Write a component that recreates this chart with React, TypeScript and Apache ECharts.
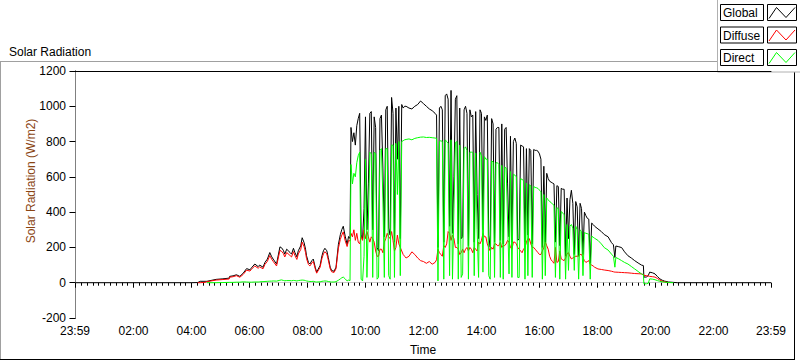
import React, { useEffect, useRef } from "react";
import * as echarts from "echarts";

// Time of each sample, minutes after midnight
const times = [
  0, 240, 253, 258, 268, 272, 291, 305, 318, 319,
  326, 333, 340, 347, 354, 361, 364, 371, 378, 381,
  388, 392, 397, 402, 406, 409, 416, 423, 426, 430,
  433, 437, 444, 447, 451, 454, 458, 461, 466, 469,
  473, 476, 478, 482, 485, 489, 492, 496, 499, 506,
  510, 513, 516, 520, 523, 527, 530, 535, 539, 544,
  548, 551, 554, 558, 562, 565, 568,
  570, 573, 576, 579, 582, 585, 588, 591, 594, 597,
  600, 603, 606, 609, 612, 615, 618, 621, 624, 627,
  630, 633, 636, 639, 642, 645, 648, 651, 654, 657,
  660, 663, 666, 669, 672, 675, 678, 681,
  684, 690, 696, 702, 708, 714, 720, 726, 732, 738, 744, 747,
  750, 753, 756, 759, 762, 765, 768, 771, 774, 777,
  780, 783, 786, 789, 792, 795, 798, 801, 804, 807,
  810, 813, 816, 819, 822, 825, 828, 831, 834, 837,
  840, 843, 846, 849, 852, 855, 858, 861, 864, 867,
  870, 873, 876, 879, 882, 885, 888, 891, 894, 897,
  900, 903, 906, 909, 912, 915, 918, 921, 924, 927,
  930, 933, 936, 939, 942, 945, 948, 951, 954, 957,
  960, 963, 966, 969, 972, 975, 978, 981, 984, 987,
  990, 993, 996, 999, 1002, 1005, 1008, 1011, 1014, 1017,
  1020, 1023, 1026, 1029, 1032, 1035, 1038, 1041, 1044, 1047,
  1050, 1053, 1056, 1059, 1062, 1065, 1068, 1071, 1074,
  1081, 1088, 1094, 1102, 1109, 1113, 1116, 1118, 1124, 1130,
  1136, 1143, 1150, 1157, 1164, 1171, 1175, 1176, 1181, 1185,
  1188, 1194, 1199, 1204, 1209, 1214, 1219, 1227, 1237, 1245,
  1439,
];

const globalRad = [
  0, 0, 1, 8, 8, 8, 19, 22, 26, 36,
  39, 45, 36, 54, 80, 73, 84, 106, 91, 100,
  88, 115, 134, 171, 147, 134, 106, 203, 199, 184,
  162, 190, 171, 162, 195, 171, 147, 181, 209, 255,
  227, 190, 153, 115, 106, 125, 134, 88, 60, 97,
  153, 181, 195, 181, 143, 88, 69, 65, 88, 218,
  273, 301, 320, 264, 218, 262, 250,
  880, 800, 850, 780, 890, 930, 960, 270, 250, 420,
  940, 300, 560, 960, 970, 300, 940, 880, 200, 180,
  930, 950, 650, 260, 980, 1000, 310, 270, 1050, 960,
  230, 990, 700, 1000, 250, 1010, 990, 1000,
  1000, 990, 985, 1000, 1010, 1030, 1015, 1000, 985, 975, 960, 950,
  200, 990, 1000, 980, 230, 1060, 1070, 1040, 320, 1090,
  280, 600, 1040, 1060, 220, 990, 250, 260, 980, 1000,
  960, 210, 980, 940, 950, 230, 970, 500, 250, 980,
  960, 300, 940, 920, 950, 270, 200, 930, 900, 230,
  870, 880, 880, 240, 900, 220, 870, 880, 560, 260,
  830, 230, 800, 820, 790, 240, 250, 780, 775, 770,
  230, 760, 270, 760, 750, 220, 755, 750, 750, 745,
  730, 700, 200, 660, 230, 620, 590, 575, 570, 565,
  560, 230, 550, 545, 210, 535, 530, 530, 150, 480,
  250, 470, 524, 450, 160, 460, 430, 150, 450, 420,
  160, 400, 380, 365, 360, 110, 338, 330, 320,
  305, 290, 273, 260, 227, 215, 143, 208, 204, 199,
  175, 153, 140, 125, 112, 100, 97, 32, 32, 40,
  60, 56, 50, 35, 22, 14, 9, 4, 2, 0,
  0,
];

const diffuseRad = [
  null, null, 0, 0, 2, 6, 15, 18, 21, 31,
  34, 40, 31, 47, 71, 66, 76, 95, 82, 90,
  79, 104, 121, 154, 133, 121, 95, 183, 179, 166,
  146, 171, 154, 146, 176, 154, 132, 163, 188, 230,
  204, 171, 137, 103, 95, 112, 121, 79, 54, 87,
  138, 163, 176, 163, 129, 79, 62, 58, 79, 196,
  246, 270, 288, 238, 205, 240, 236,
  280, 260, 300, 240, 280, 230, 220, 260, 240, 300,
  250, 290, 260, 230, 260, 250, 230, 180, 150, 150,
  190, 190, 170, 230, 250, 280, 260, 250, 290, 240,
  180, 200, 270, 220, 200, 180, 160, 150,
  140, 150, 175, 160, 140, 125, 120, 110, 120, 105, 115, 130,
  190, 170, 160, 150, 210, 200, 220, 290, 280, 240,
  270, 250, 200, 200, 190, 160, 170, 190, 170, 190,
  200, 180, 200, 190, 170, 200, 190, 180, 230, 220,
  240, 280, 260, 260, 220, 200, 180, 200, 190, 220,
  220, 210, 210, 230, 200, 210, 210, 220, 240, 230,
  200, 190, 230, 230, 220, 200, 190, 180, 170, 190,
  200, 230, 250, 250, 220, 200, 200, 190, 180, 170,
  160, 160, 180, 200, 230, 210, 190, 150, 130, 120,
  110, 200, 115, 120, 180, 135, 130, 125, 140, 165,
  170, 150, 135, 140, 145, 150, 150, 153, 160, 160,
  143, 125, 115, 120, 125, 105, 100, 95, 88,
  78, 75, 72, 69, 65, 62, 60, 60, 59, 58,
  57, 56, 54, 52, 51, 50, 45, 42, 40, 38,
  36, 34, 32, 24, 15, 9, 5, 0, null, null,
  null,
];

const directRad = [
  null, null, null, null, null, 0, 0, 1, 2, 2,
  2, 3, 3, 5, 4, 3, 3, 4, 4, 5,
  6, 7, 8, 9, 9, 10, 9, 14, 16, 13,
  11, 12, 12, 11, 13, 12, 10, 12, 14, 15,
  14, 12, 10, 8, 7, 7, 8, 5, 4, 5,
  8, 9, 10, 9, 7, 5, 4, 4, 6, 14,
  22, 28, 32, 22, 10, 15, 12,
  670, 560, 620, 600, 680, 720, 740, 20, 10, 150,
  700, 30, 350, 740, 730, 30, 740, 730, 20, 30,
  750, 760, 480, 30, 760, 760, 40, 20, 780, 780,
  30, 790, 500, 800, 40, 800, 805, 810,
  812, 815, 810, 818, 822, 825, 826, 823, 824, 822, 820, 818,
  10, 800, 805, 800, 20, 810, 800, 790, 40, 810,
  20, 420, 795, 800, 20, 780, 30, 50, 760, 770,
  750, 20, 740, 740, 740, 40, 735, 300, 30, 740,
  720, 60, 715, 700, 700, 40, 20, 690, 685, 30,
  680, 680, 670, 30, 665, 20, 655, 650, 350, 50,
  630, 30, 615, 610, 600, 30, 30, 590, 585, 580,
  20, 565, 40, 555, 550, 30, 545, 540, 538, 534,
  525, 515, 20, 500, 40, 480, 470, 460, 455, 445,
  440, 30, 425, 420, 20, 404, 395, 385, 20, 330,
  70, 320, 330, 310, 70, 320, 300, 20, 300, 290,
  40, 285, 280, 278, 275, 20, 264, 258, 252,
  240, 220, 199, 185, 162, 150, 88, 143, 135, 125,
  115, 106, 92, 78, 64, 50, 45, -6, -6, -4,
  22, 20, 17, 12, 8, 5, 3, 1, 0, null,
  null,
];

const seriesNames = ["Global", "Diffuse", "Direct"];
const seriesColors = ["#000000", "#ff0000", "#00ff00"];

// x-axis tick labels (minutes): 23:59, 02:00 ... 22:00, 23:59
const xMajorTicks = [-1, 120, 240, 360, 480, 600, 720, 840, 960, 1080, 1200, 1320, 1439];
const xMinorTicks: number[] = [];
for (let v = 12; v < 1439; v += 12) if (v % 120 !== 0) xMinorTicks.push(v);

const FONT = '"Liberation Sans", Arial, sans-serif';

function fmtTime(v: number): string {
  const m = ((Math.round(v) % 1440) + 1440) % 1440;
  const h = Math.floor(m / 60);
  const mm = m % 60;
  return String(h).padStart(2, "0") + ":" + String(mm).padStart(2, "0");
}

function pairs(vals: (number | null)[]) {
  return times.map((t, i) => [t, vals[i] === undefined ? null : vals[i]]);
}

export default function App() {
  const ref = useRef<HTMLDivElement>(null);
  useEffect(() => {
    if (!ref.current) return;
    const chart = echarts.init(ref.current, null, { renderer: "svg" });
    const valueSets = [globalRad, diffuseRad, directRad];
    const legendRows = seriesNames.map((name, i) => {
      const y0 = 4.5 + i * 22.5;
      return [
        {
          type: "rect",
          shape: { x: 720.5, y: y0, width: 43, height: 16 },
          style: { fill: "#ffffff", stroke: "#000000", lineWidth: 1 },
        },
        {
          type: "text",
          style: {
            text: name,
            x: 723,
            y: y0 + 8.5,
            font: "12px " + FONT,
            fill: "#000000",
            align: "left",
            verticalAlign: "middle",
          },
        },
        {
          type: "rect",
          shape: { x: 767.5, y: y0, width: 29, height: 16 },
          style: { fill: "#ffffff", stroke: "#000000", lineWidth: 1 },
        },
        {
          type: "polyline",
          shape: {
            points: [
              [769, y0 + 14],
              [776.5, y0 + 3],
              [786, y0 + 13],
              [795, y0 + 3],
            ],
          },
          style: { stroke: seriesColors[i], fill: null, lineWidth: 1 },
        },
      ];
    });

    const option: any = {
      animation: false,
      backgroundColor: "#ffffff",
      title: {
        text: "Solar Radiation",
        left: 4,
        top: 41,
        textStyle: { fontSize: 12, fontWeight: "normal", color: "#000000", fontFamily: FONT },
      },
      grid: { left: 75, right: 29, top: 71, bottom: 39, show: false },
      xAxis: [
        {
          type: "value",
          min: -1,
          max: 1439,
          position: "bottom",
          name: "Time",
          nameLocation: "middle",
          nameGap: 26,
          nameMoveOverlap: false,
          nameTextStyle: { fontSize: 12, color: "#000000", fontFamily: FONT },
          axisLine: { show: true, lineStyle: { color: "#c8c8c8", width: 1 } },
          axisTick: {
            show: true,
            customValues: xMajorTicks,
            length: 5,
            lineStyle: { color: "#000000" },
          },
          axisLabel: {
            customValues: xMajorTicks,
            formatter: (v: number) => fmtTime(v),
            margin: 7,
            fontSize: 12,
            color: "#000000",
            fontFamily: FONT,
          },
          splitLine: { show: false },
        },
        {
          type: "value",
          min: -1,
          max: 1439,
          position: "bottom",
          axisLine: { show: false },
          axisTick: {
            show: true,
            customValues: xMinorTicks,
            length: 3,
            lineStyle: { color: "#000000" },
          },
          axisLabel: { show: false },
          splitLine: { show: false },
        },
        {
          type: "value",
          min: -1,
          max: 1439,
          position: "top",
          axisLine: { show: true, lineStyle: { color: "#000000", width: 1 } },
          axisTick: { show: false },
          axisLabel: { show: false },
          splitLine: { show: false },
        },
      ],
      yAxis: [
        {
          type: "value",
          min: -200,
          max: 1200,
          interval: 200,
          position: "left",
          name: "Solar Radiation (W/m2)",
          nameLocation: "middle",
          nameGap: 38,
          nameMoveOverlap: false,
          nameTextStyle: {
            fontSize: 12,
            color: "#8a4513",
            fontFamily: FONT,
            padding: [0, 0, 0, 27],
          },
          axisLine: { show: true, lineStyle: { color: "#000000", width: 1 } },
          axisTick: { show: true, length: 6, lineStyle: { color: "#000000" } },
          axisLabel: {
            margin: 9,
            fontSize: 12,
            color: "#000000",
            fontFamily: FONT,
            formatter: (v: number) => String(v),
          },
          splitLine: { show: false },
        },
        {
          type: "value",
          min: -200,
          max: 1200,
          interval: 200,
          position: "right",
          axisLine: { show: true, lineStyle: { color: "#808080", width: 1 } },
          axisTick: { show: false },
          axisLabel: { show: false },
          splitLine: { show: false },
        },
      ],
      series: seriesNames.map((name, i) => ({
        name,
        type: "line",
        xAxisIndex: 0,
        yAxisIndex: 0,
        data: pairs(valueSets[i]),
        showSymbol: false,
        symbol: "none",
        connectNulls: false,
        silent: true,
        lineStyle: { color: seriesColors[i], width: 1 },
        itemStyle: { color: seriesColors[i] },
        z: 2 + i,
      })),
      graphic: [
        {
          type: "line",
          shape: { x1: 0, y1: 61.5, x2: 717.5, y2: 61.5 },
          style: { stroke: "#a0a0a0", lineWidth: 1 },
        },
        {
          type: "line",
          shape: { x1: 0.5, y1: 61.5, x2: 0.5, y2: 360 },
          style: { stroke: "#a0a0a0", lineWidth: 1 },
        },
        {
          type: "line",
          shape: { x1: 0, y1: 359.5, x2: 795, y2: 359.5 },
          style: { stroke: "#000000", lineWidth: 1 },
        },
        {
          type: "line",
          shape: { x1: 794.5, y1: 72, x2: 794.5, y2: 360 },
          style: { stroke: "#000000", lineWidth: 1 },
        },
        {
          type: "rect",
          shape: { x: 717.5, y: -1, width: 90, height: 73 },
          style: { fill: "#ffffff", stroke: "#b0b0b0", lineWidth: 1 },
        },
        ...legendRows.flat(),
      ],
    };
    chart.setOption(option);
    return () => chart.dispose();
  }, []);
  return (
    <div
      ref={ref}
      style={{ position: "absolute", left: 0, top: 0, width: 800, height: 361, background: "#fff" }}
    />
  );
}
